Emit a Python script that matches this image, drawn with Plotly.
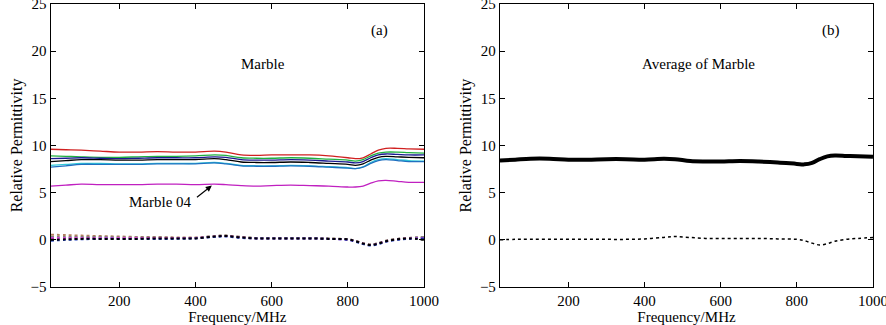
import plotly.graph_objects as go

# ---------------- data ----------------
freq = [20, 60, 100, 150, 200, 250, 300, 350, 400, 450, 480, 520, 560, 600, 650, 700, 750, 800, 820, 840, 860, 880, 900, 930, 960, 1000]

real_red     = [9.6, 9.55, 9.5, 9.4, 9.3, 9.3, 9.35, 9.3, 9.3, 9.4, 9.3, 9.0, 8.95, 9.0, 9.0, 9.0, 8.9, 8.7, 8.6, 8.7, 9.1, 9.5, 9.7, 9.7, 9.65, 9.6]
real_green   = [8.9, 8.85, 8.8, 8.75, 8.75, 8.8, 8.85, 8.85, 8.9, 9.0, 8.95, 8.7, 8.65, 8.65, 8.7, 8.65, 8.55, 8.45, 8.35, 8.5, 8.9, 9.2, 9.3, 9.3, 9.25, 9.2]
real_navy    = [8.6, 8.65, 8.7, 8.65, 8.6, 8.65, 8.7, 8.7, 8.7, 8.8, 8.75, 8.5, 8.45, 8.45, 8.5, 8.45, 8.35, 8.25, 8.15, 8.3, 8.7, 9.0, 9.1, 9.05, 9.0, 9.0]
real_black   = [8.3, 8.4, 8.5, 8.5, 8.45, 8.45, 8.5, 8.5, 8.5, 8.6, 8.5, 8.25, 8.2, 8.2, 8.25, 8.2, 8.1, 8.0, 7.9, 8.05, 8.45, 8.75, 8.85, 8.8, 8.75, 8.7]
real_cyan    = [7.9, 8.0, 8.1, 8.1, 8.05, 8.05, 8.1, 8.1, 8.1, 8.2, 8.1, 7.9, 7.85, 7.85, 7.9, 7.85, 7.75, 7.65, 7.55, 7.75, 8.2, 8.5, 8.6, 8.5, 8.4, 8.35]
real_steel   = [7.7, 7.85, 8.0, 8.0, 8.0, 8.0, 8.05, 8.05, 8.05, 8.15, 8.05, 7.85, 7.8, 7.8, 7.85, 7.8, 7.7, 7.6, 7.55, 7.7, 8.1, 8.4, 8.5, 8.4, 8.3, 8.3]
real_magenta = [5.7, 5.8, 5.9, 5.85, 5.85, 5.85, 5.9, 5.9, 5.85, 5.9, 5.85, 5.75, 5.7, 5.75, 5.8, 5.75, 5.7, 5.6, 5.6, 5.7, 6.0, 6.25, 6.3, 6.2, 6.1, 6.1]

imag_brown   = [0.55, 0.5, 0.45, 0.4, 0.35, 0.3, 0.3, 0.25, 0.25, 0.4, 0.45, 0.3, 0.2, 0.2, 0.2, 0.2, 0.15, 0.05, -0.1, -0.35, -0.5, -0.35, -0.1, 0.1, 0.2, 0.3]
imag_magenta = [0.2, 0.2, 0.2, 0.2, 0.2, 0.2, 0.2, 0.2, 0.2, 0.35, 0.4, 0.25, 0.15, 0.15, 0.15, 0.15, 0.1, 0.0, -0.15, -0.4, -0.55, -0.4, -0.15, 0.05, 0.15, 0.2]
imag_blue    = [-0.1, 0.0, 0.05, 0.1, 0.1, 0.1, 0.1, 0.1, 0.15, 0.3, 0.35, 0.2, 0.15, 0.15, 0.15, 0.15, 0.1, 0.0, -0.2, -0.45, -0.6, -0.45, -0.2, 0.0, 0.1, 0.15]
imag_black   = [0.0, 0.05, 0.1, 0.1, 0.1, 0.1, 0.15, 0.15, 0.15, 0.35, 0.4, 0.25, 0.15, 0.15, 0.15, 0.15, 0.1, 0.05, -0.15, -0.4, -0.55, -0.4, -0.15, 0.05, 0.15, 0.0]
imag_gray    = [0.3, 0.3, 0.3, 0.3, 0.25, 0.25, 0.25, 0.2, 0.2, 0.4, 0.45, 0.3, 0.2, 0.2, 0.2, 0.2, 0.15, 0.05, -0.1, -0.35, -0.5, -0.35, -0.1, 0.1, 0.2, 0.3]

avg_real = [8.4, 8.5, 8.6, 8.6, 8.5, 8.5, 8.55, 8.55, 8.5, 8.6, 8.55, 8.35, 8.3, 8.3, 8.35, 8.3, 8.2, 8.05, 8.0, 8.15, 8.55, 8.85, 8.95, 8.9, 8.85, 8.8]
avg_imag = [0.0, 0.05, 0.05, 0.05, 0.05, 0.05, 0.05, 0.05, 0.1, 0.25, 0.35, 0.25, 0.15, 0.15, 0.15, 0.15, 0.1, 0.05, -0.1, -0.35, -0.55, -0.4, -0.15, 0.05, 0.15, 0.25]

real_series = [(real_red, "#d02020"), (real_green, "#20b040"), (real_navy, "#1a1a90"),
               (real_black, "#000000"), (real_cyan, "#30c8d8"), (real_steel, "#2070c0"),
               (real_magenta, "#c020c0")]
imag_series = [(imag_brown, "#b08060"), (imag_gray, "#808080"), (imag_magenta, "#d040d0"),
               (imag_blue, "#2040c0"), (imag_black, "#000000")]

x_ticks = [200, 400, 600, 800, 1000]
y_ticks = [-5, 0, 5, 10, 15, 20, 25]

FONT = "Liberation Serif"

fig = go.Figure()
for ys, c in real_series:
    fig.add_trace(go.Scatter(x=freq, y=ys, mode="lines", line=dict(color=c, width=1.3, shape="spline"),
                             xaxis="x", yaxis="y", showlegend=False))
for ys, c in imag_series:
    fig.add_trace(go.Scatter(x=freq, y=ys, mode="lines", line=dict(color=c, width=2, dash="dot", shape="spline"),
                             xaxis="x", yaxis="y", showlegend=False))
fig.add_trace(go.Scatter(x=freq, y=avg_real, mode="lines", line=dict(color="black", width=4, shape="spline"),
                         xaxis="x2", yaxis="y2", showlegend=False))
fig.add_trace(go.Scatter(x=freq, y=avg_imag, mode="lines", line=dict(color="black", width=1.5, dash="dot", shape="spline"),
                         xaxis="x2", yaxis="y2", showlegend=False))

axis_common = dict(showline=True, linecolor="black", linewidth=1.2, mirror="ticks", ticks="inside",
                   ticklen=5, tickcolor="black", showgrid=False, zeroline=False,
                   ticklabeloverflow="allow", automargin=False,
                   tickfont=dict(family=FONT, size=15, color="black"))

fig.update_layout(
    width=886, height=325,
    margin=dict(l=0, r=0, t=4, b=38),
    paper_bgcolor="white", plot_bgcolor="white",
    font=dict(family=FONT, color="black"),
    xaxis=dict(domain=[0.0572, 0.4786], range=[20, 1000], tickvals=x_ticks, anchor="y",
               title=dict(text="Frequency/MHz", font=dict(family=FONT, size=15), standoff=0), **axis_common),
    yaxis=dict(domain=[0, 1], range=[-5, 25], tickvals=y_ticks, anchor="x",
               title=dict(text="Relative Permittivity", font=dict(family=FONT, size=16), standoff=4), **axis_common),
    xaxis2=dict(domain=[0.5643, 0.9853], range=[20, 1000], tickvals=x_ticks, anchor="y2",
                title=dict(text="Frequency/MHz", font=dict(family=FONT, size=15), standoff=0), **axis_common),
    yaxis2=dict(domain=[0, 1], range=[-5, 25], tickvals=y_ticks, anchor="x2",
                title=dict(text="Relative Permittivity", font=dict(family=FONT, size=16), standoff=4), **axis_common),
    annotations=[
        dict(x=882, y=22.2, xref="x", yref="y", text="(a)", showarrow=False, font=dict(family=FONT, size=15)),
        dict(x=577, y=18.6, xref="x", yref="y", text="Marble", showarrow=False, font=dict(family=FONT, size=15)),
        dict(x=443, y=5.75, xref="x", yref="y", ax=400, ay=4.4, axref="x", ayref="y",
             text="", showarrow=True, arrowhead=2, arrowsize=1, arrowwidth=1.2, arrowcolor="black"),
        dict(x=395, y=4.0, xref="x", yref="y", text="Marble 04", showarrow=False, xanchor="right",
             font=dict(family=FONT, size=15)),
        dict(x=889, y=22.2, xref="x2", yref="y2", text="(b)", showarrow=False, font=dict(family=FONT, size=15)),
        dict(x=542, y=18.6, xref="x2", yref="y2", text="Average of Marble", showarrow=False,
             font=dict(family=FONT, size=15)),
    ],
)

fig.write_html("out.html", config={"displayModeBar": False},
               post_script="document.body.style.margin='0';document.body.style.padding='0';")
